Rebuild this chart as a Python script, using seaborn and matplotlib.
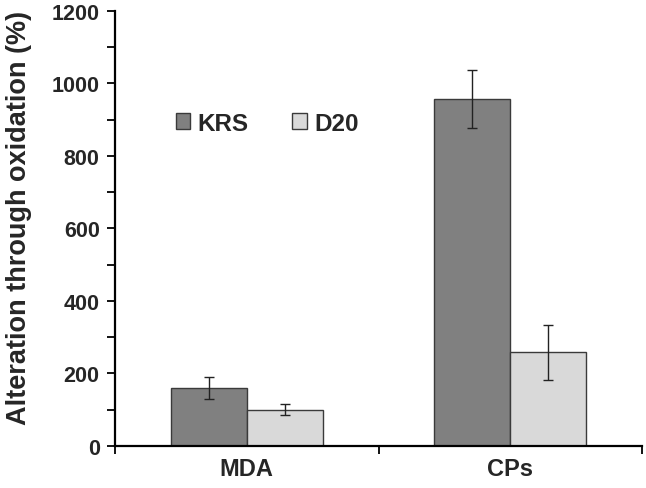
import pandas as pd
import numpy as np
import matplotlib
matplotlib.use("Agg")
import matplotlib.pyplot as plt
import seaborn as sns
from matplotlib.ticker import MultipleLocator, FixedLocator

# values
categories = ["MDA", "CPs"]
groups = ["KRS", "D20"]
krs_values = [160, 957]
d20_values = [100, 258]
krs_err = [31, 80]
d20_err = [15, 77]

df = pd.DataFrame({
    "marker": categories * 2,
    "group": [groups[0]] * 2 + [groups[1]] * 2,
    "value": krs_values + d20_values,
    "err": krs_err + d20_err,
})

sns.set_style("white")
plt.rcParams['font.family'] = ['Liberation Sans', 'DejaVu Sans']
plt.rcParams['font.weight'] = 'bold'

fig = plt.figure(figsize=(6.46, 4.89), dpi=100)
ax = fig.add_axes([0.178, 0.0859, 0.816, 0.8896])

palette = {"KRS": "#808080", "D20": "#d9d9d9"}
sns.barplot(data=df, x="marker", y="value", hue="group", order=categories,
            hue_order=groups, palette=palette, width=0.576, gap=0,
            errorbar=None, edgecolor="#3a3a3a", linewidth=1.0, ax=ax,
            saturation=1)

# error bars placed on the drawn bars
for container, g in zip(ax.containers, groups):
    sub = df[df["group"] == g].set_index("marker").loc[categories]
    xs = [p.get_x() + p.get_width() / 2 for p in container.patches]
    ax.errorbar(xs, sub["value"], yerr=sub["err"], fmt="none",
                ecolor="#222222", elinewidth=1.0, capsize=3.5, capthick=1.0)

ax.set_ylim(0, 1200)
ax.set_xlim(-0.5, 1.5)
ax.yaxis.set_major_locator(MultipleLocator(200))
ax.yaxis.set_minor_locator(MultipleLocator(100))
ax.xaxis.set_minor_locator(FixedLocator([-0.5, 0.5, 1.5]))

sns.despine(ax=ax)
for s in ["left", "bottom"]:
    ax.spines[s].set_linewidth(1.6)
    ax.spines[s].set_color("black")

ax.tick_params(axis="y", which="both", direction="out", length=6, width=1.3,
               color="black", labelsize=15.5, pad=5, left=True)
ax.tick_params(axis="x", which="major", length=0, labelsize=17, pad=8)
ax.tick_params(axis="x", which="minor", direction="out", length=6, width=1.3,
               color="black", bottom=True)
for lab in ax.get_xticklabels() + ax.get_yticklabels():
    lab.set_fontweight("bold")

ax.set_xlabel("")
ax.set_ylabel("Alteration through oxidation (%)", fontsize=19.5,
              fontweight="bold")
ax.yaxis.set_label_coords(-0.157, 0.527)

ax.legend(ncol=2, frameon=False, loc="center left",
          bbox_to_anchor=(0.115, 0.742), borderpad=0, borderaxespad=0,
          handlelength=0.6, handleheight=0.6, handletextpad=0.3,
          columnspacing=1.8, prop={"size": 17.5, "weight": "bold"})

fig.savefig("out.png", dpi=100)
